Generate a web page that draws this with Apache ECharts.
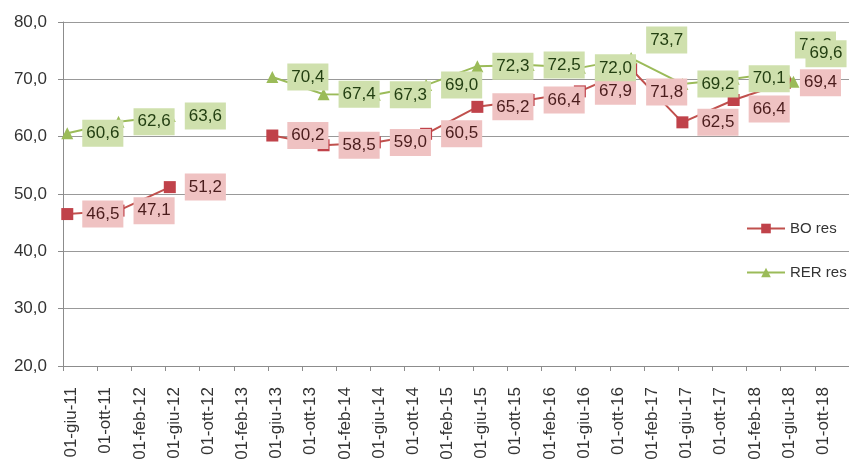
<!DOCTYPE html>
<html>
<head>
<meta charset="utf-8">
<script src="https://cdn.jsdelivr.net/npm/echarts@6/dist/echarts.min.js"></script>
<style>
html,body{margin:0;padding:0;background:#fff;}
#c{width:849px;height:465px;}
</style>
</head>
<body>
<div id="c"></div>
<script>
// X-axis tick labels (every 4 months from 01-giu-11)
var tickLabels = ['01-giu-11','01-ott-11','01-feb-12','01-giu-12','01-ott-12','01-feb-13','01-giu-13','01-ott-13','01-feb-14','01-giu-14','01-ott-14','01-feb-15','01-giu-15','01-ott-15','01-feb-16','01-giu-16','01-ott-16','01-feb-17','01-giu-17','01-ott-17','01-feb-18','01-giu-18','01-ott-18'];
var startDate = '2011-06';
// BO res
var boDates  = ['2011-06','2011-12','2012-06','2012-12','2013-06','2013-12','2014-06','2014-12','2015-06','2015-12','2016-06','2016-12','2017-06','2017-12','2018-06'];
var boValues = [46.5, 47.1, 51.2, null, 60.2, 58.5, 59.0, 60.5, 65.2, 66.4, 67.9, 71.8, 62.5, 66.4, 69.4];
// RER res
var rerDates  = ['2011-06','2011-12','2012-06','2012-12','2013-06','2013-12','2014-06','2014-12','2015-06','2015-12','2016-06','2016-12','2017-06','2017-12','2018-06','2018-07'];
var rerValues = [60.6, 62.6, 63.6, null, 70.4, 67.4, 67.3, 69.0, 72.3, 72.5, 72.0, 73.7, 69.2, 70.1, 71.3, 69.6];

function monthIndex(d){
  var p = d.split('-'), s = startDate.split('-');
  return (parseInt(p[0],10)-parseInt(s[0],10))*12 + (parseInt(p[1],10)-parseInt(s[1],10));
}
function fmt(v){ return v.toFixed(1).replace('.', ','); }

// label offsets for individually moved labels (keyed by date)
var boLabelShift  = {'2016-12':[0,23], '2017-12':[0,9]};
var rerLabelShift = {'2016-12':[0,-18], '2018-06':[-5,-27], '2018-07':[-3,-28]};

function build(dates, values, shifts){
  return dates.map(function(d,i){
    var v = values[i];
    var item = {value:[monthIndex(d)+0.5, v==null?'-':v]};
    if (shifts[d]) item.label = {offset: shifts[d]};
    return item;
  });
}

var font = "'Liberation Sans', Arial, sans-serif";
var chart = echarts.init(document.getElementById('c'), null, {renderer:'canvas'});
chart.setOption({
  animation:false,
  textStyle:{fontFamily:font},
  grid:{left:63, right:-11, top:22, bottom:99, containLabel:false},
  legend:{
    orient:'vertical', left:741, top:216, itemWidth:38, itemHeight:12, itemGap:29,
    textStyle:{fontSize:15, color:'#333', fontFamily:font},
    data:['BO res','RER res']
  },
  xAxis:{
    type:'value', min:0, max:92, interval:4,
    axisLine:{show:true, lineStyle:{color:'#8c8c8c', width:1}},
    axisTick:{show:true, length:5, lineStyle:{color:'#8c8c8c'}},
    splitLine:{show:false},
    axisLabel:{
      rotate:90, margin:21, fontSize:17, color:'#333', fontFamily:font,
      verticalAlign:'top',
      formatter:function(v){ var k = Math.round(v/4); return tickLabels[k] || ''; }
    }
  },
  yAxis:{
    type:'value', min:20, max:80, interval:10,
    axisLine:{show:true, lineStyle:{color:'#8c8c8c', width:1}},
    axisTick:{show:true, length:5, lineStyle:{color:'#8c8c8c'}},
    splitLine:{show:true, lineStyle:{color:'#999', width:1.2}},
    axisLabel:{margin:16, fontSize:17, color:'#333', fontFamily:font, formatter:function(v){return fmt(v);}}
  },
  series:[
    {
      name:'BO res', type:'line', connectNulls:false,
      data:build(boDates, boValues, boLabelShift),
      symbol:'rect', symbolSize:12,
      itemStyle:{color:'#c0424a'},
      lineStyle:{color:'#c0504d', width:2},
      label:{show:true, position:'right', distance:9, fontSize:17, fontFamily:font, color:'#4a1c1c',
        backgroundColor:'#efc2c2', padding:[5,4],
        formatter:function(p){return fmt(p.value[1]);}}
    },
    {
      name:'RER res', type:'line', connectNulls:false,
      data:build(rerDates, rerValues, rerLabelShift),
      symbol:'triangle', symbolSize:12,
      itemStyle:{color:'#9bbb59'},
      lineStyle:{color:'#9bbb59', width:2},
      label:{show:true, position:'right', distance:9, fontSize:17, fontFamily:font, color:'#233f12',
        backgroundColor:'#cfe0ad', padding:[5,4],
        formatter:function(p){return fmt(p.value[1]);}}
    }
  ]
});
</script>
</body>
</html>
